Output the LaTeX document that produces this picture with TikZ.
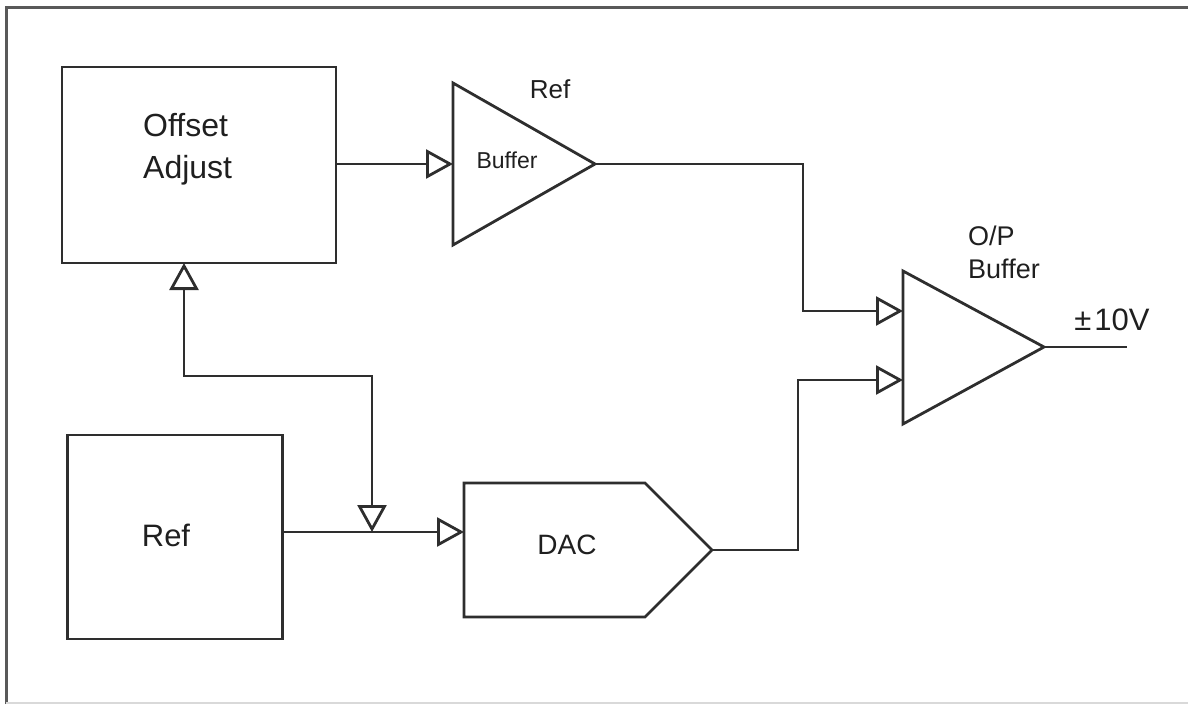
\documentclass[tikz,border=0pt]{standalone}
\usepackage{fontspec}
\setmainfont{Liberation Sans}
\usepackage{tikz}
\usetikzlibrary{arrows.meta,positioning}

\tikzset{
  wire/.style={line width=2.8pt, draw=black!82, line join=miter},
  inarrow/.style={-{Triangle[open,length=27pt,width=29pt]}},
  botharrow/.style={{Triangle[open,length=27pt,width=29pt]}-{Triangle[open,length=27pt,width=29pt]}},
  blockbox/.style={draw=black!82, line width=2.8pt, rectangle, inner sep=0pt},
  lbl/.style={text=black!88, inner sep=0pt},
}

\begin{document}
\begin{tikzpicture}[x=1pt,y=-1pt]
  \useasboundingbox (0,0) rectangle (1188,704);
  % Outer frame
  \draw[line width=3pt, black!65] (6,704) -- (6,7) -- (1188,7);
  \draw[line width=2pt, black!15] (6,703) -- (1188,703);

  % Offset adjust block
  \node[blockbox, minimum width=274pt, minimum height=196pt] (offset) at (199,165) {};
  \node[lbl, align=left, anchor=west, font=\fontsize{32}{42}\selectfont] (offsettext) at (143,149) {Offset\\Adjust};
  % Ref block
  \node[blockbox, minimum width=215pt, minimum height=204pt] (refbox) at (175,537) {};
  \node[lbl, font=\fontsize{31}{36}\selectfont] (reftext) at (166,535) {Ref};

  % Ref buffer (triangle)
  \coordinate (rb-in) at (453,164);
  \coordinate (rb-out) at (595,164);
  \draw[wire] (453,83) -- (rb-out) -- (453,245) -- cycle;
  \node[lbl, font=\fontsize{23}{28}\selectfont] (rbtext) at (507,160) {Buffer};
  \node[lbl, font=\fontsize{26}{30}\selectfont] (rblabel) at (550,89) {Ref};

  % O/P buffer (triangle)
  \coordinate (op-in1) at (903,311);
  \coordinate (op-in2) at (903,380);
  \coordinate (op-out) at (1044,347);
  \draw[wire] (903,271) -- (op-out) -- (903,424) -- cycle;
  \node[lbl, align=left, anchor=west, font=\fontsize{27}{33}\selectfont] (oplabel) at (968,252) {O/P\\Buffer};

  % DAC
  \coordinate (dac-in) at (464,532);
  \coordinate (dac-out) at (712,550);
  \draw[wire] (464,483) -- (645,483) -- (dac-out) -- (645,617) -- (464,617) -- cycle;
  \node[lbl, font=\fontsize{28}{32}\selectfont] (dactext) at (567,545) {DAC};

  % Output
  \coordinate (vout) at (1127,347);
  \node[lbl, font=\fontsize{31}{36}\selectfont] (vlabel) at (1112,320) {±\kern3pt10V};

  % Connections
  \coordinate (bend1) at (803,164);
  \coordinate (bend2) at (798,550);
  \coordinate (tap) at (372,532);
  \coordinate (fb-top) at (184,263);
  \coordinate (fb-corner) at (372,376);
  \draw[wire,inarrow] (offset.east |- rb-in) -- (rb-in);
  \draw[wire,inarrow] (rb-out) -- (bend1) |- (op-in1);
  \draw[wire,inarrow] (dac-out) -- (bend2) |- (op-in2);
  \draw[wire] (op-out) -- (vout);
  \draw[wire,inarrow] (refbox.east |- dac-in) -- (dac-in);
  \draw[wire,botharrow] (fb-top) |- (fb-corner) -- (tap);
\end{tikzpicture}
\end{document}
